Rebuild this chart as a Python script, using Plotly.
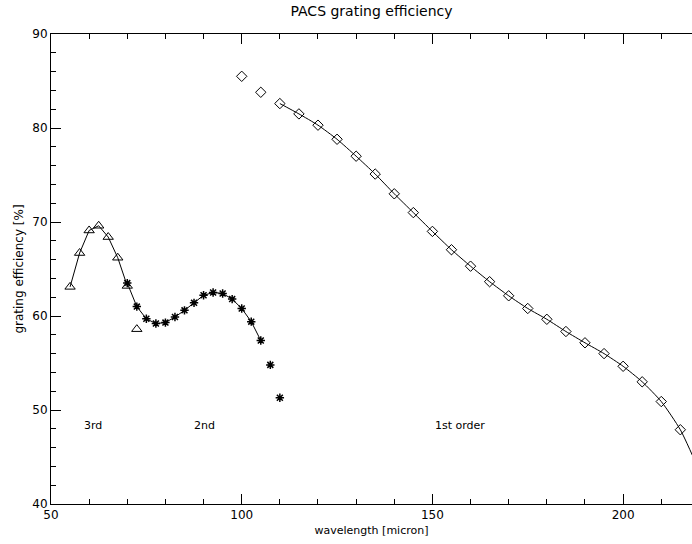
import plotly.graph_objects as go

# 3rd order (triangles)
wl_3rd = [55, 57.5, 60, 62.5, 65, 67.5, 70, 72.5]
eff_3rd = [63.1, 66.7, 69.1, 69.6, 68.4, 66.2, 63.2, 58.6]
n_line_3rd = 7  # first 7 points joined by the curve

# 2nd order (asterisks)
wl_2nd = [70, 72.5, 75, 77.5, 80, 82.5, 85, 87.5, 90, 92.5, 95, 97.5, 100,
          102.5, 105, 107.5, 110]
eff_2nd = [63.5, 61.0, 59.7, 59.2, 59.3, 59.9, 60.6, 61.4, 62.2, 62.5, 62.4,
           61.8, 60.8, 59.4, 57.4, 54.8, 51.3]
n_line_2nd = 15

# 1st order (diamonds)
wl_1st = [100, 105, 110, 115, 120, 125, 130, 135, 140, 145, 150, 155, 160,
          165, 170, 175, 180, 185, 190, 195, 200, 205, 210, 215, 220]
eff_1st = [85.5, 83.8, 82.6, 81.5, 80.3, 78.8, 77.0, 75.1, 73.0, 71.0, 69.0,
           67.05, 65.3, 63.65, 62.15, 60.8, 59.65, 58.35, 57.15, 56.0, 54.65,
           53.0, 50.9, 47.9, 43.5]
line_start_1st = 2  # curve starts at 110 micron

order_labels = ["3rd", "2nd", "1st order"]
order_label_x = [58.1, 87.0, 150.2]
order_label_y = [48.4, 48.4, 48.4]

x_ticks = [50, 100, 150, 200]
y_ticks = [40, 50, 60, 70, 80, 90]

FONT = "DejaVu Sans"
BLACK = "#000000"

fig = go.Figure()

# curves
fig.add_trace(go.Scatter(x=wl_3rd[:n_line_3rd], y=eff_3rd[:n_line_3rd], mode="lines",
                         line=dict(color=BLACK, width=1), showlegend=False))
fig.add_trace(go.Scatter(x=wl_2nd[:n_line_2nd], y=eff_2nd[:n_line_2nd], mode="lines",
                         line=dict(color=BLACK, width=1), showlegend=False))
fig.add_trace(go.Scatter(x=wl_1st[line_start_1st:], y=eff_1st[line_start_1st:], mode="lines",
                         line=dict(color=BLACK, width=1, shape="spline", smoothing=0.6),
                         showlegend=False))

# symbols
fig.add_trace(go.Scatter(x=wl_3rd, y=eff_3rd, mode="markers",
                         marker=dict(symbol="triangle-up-open", size=9, color=BLACK,
                                     line=dict(width=1, color=BLACK)),
                         showlegend=False, cliponaxis=True))
fig.add_trace(go.Scatter(x=wl_2nd, y=eff_2nd, mode="markers",
                         marker=dict(symbol="asterisk-open", size=7, color=BLACK,
                                     line=dict(width=1.5, color=BLACK)),
                         showlegend=False, cliponaxis=True))
fig.add_trace(go.Scatter(x=wl_1st, y=eff_1st, mode="markers",
                         marker=dict(symbol="diamond-open", size=8, color=BLACK,
                                     line=dict(width=1, color=BLACK)),
                         showlegend=False, cliponaxis=True))

for t, x, y in zip(order_labels, order_label_x, order_label_y):
    fig.add_annotation(x=x, y=y, text=t, showarrow=False, xanchor="left",
                       yanchor="middle", font=dict(family=FONT, size=11, color=BLACK))

axis_common = dict(
    showgrid=False, zeroline=False, showline=True, linecolor=BLACK, linewidth=1,
    ticks="inside", ticklen=10, tickwidth=1, tickcolor=BLACK,
    tickfont=dict(family=FONT, size=12, color=BLACK),
)

fig.update_xaxes(range=[50, 218.06], tickvals=x_ticks, mirror="ticks",
                 minor=dict(dtick=10, ticks="inside", ticklen=5, tickcolor=BLACK,
                            tickwidth=1, showgrid=False),
                 title=dict(text="wavelength [micron]", standoff=4,
                            font=dict(family=FONT, size=11, color=BLACK)),
                 **axis_common)
fig.update_yaxes(range=[40, 90], tickvals=y_ticks, mirror=False,
                 minor=dict(dtick=2, ticks="inside", ticklen=5, tickcolor=BLACK,
                            tickwidth=1, showgrid=False),
                 title=dict(text="grating efficiency [%]", standoff=6,
                            font=dict(family=FONT, size=12, color=BLACK)),
                 **axis_common)

fig.update_layout(
    width=692, height=544,
    margin=dict(l=51, r=0, t=34, b=40),
    paper_bgcolor="white", plot_bgcolor="white",
    title=dict(text="PACS grating efficiency", x=(51 + 692) / 2 / 692, xanchor="center",
               y=1 - 11 / 544, yanchor="middle",
               font=dict(family=FONT, size=14, color=BLACK)),
    font=dict(family=FONT, color=BLACK),
)

fig.write_html("out.html")
